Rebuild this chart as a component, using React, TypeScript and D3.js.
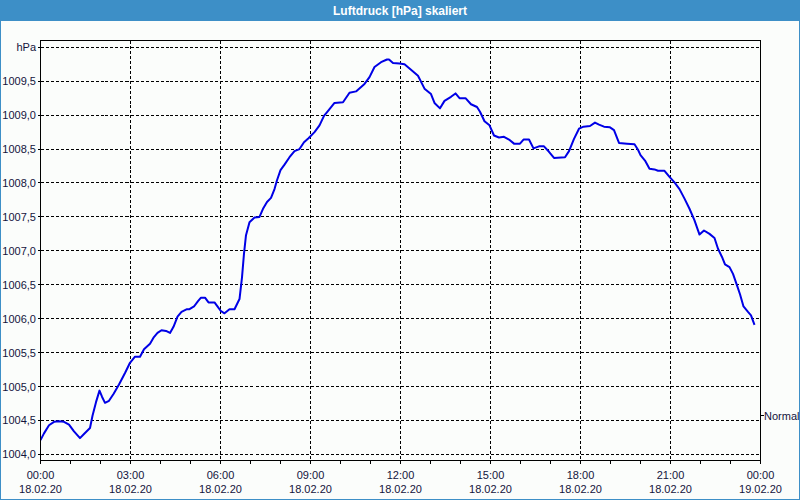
import React from "react";
import * as d3 from "d3";

// minutes since 18.02.20 00:00
const minutes = [
  0, 7, 17, 27, 37, 47, 57, 67, 79, 87, 99, 104, 111, 118, 123, 129, 137, 146, 157, 169,
  179, 189, 199, 207, 219, 226, 234, 242, 251, 259, 266, 274, 282, 293, 298, 307, 315, 321,
  329, 336, 348, 355, 361, 368, 378, 388, 398, 403, 407, 411, 418, 428, 438, 445, 453, 461,
  468, 473, 480, 488, 498, 508, 518, 527, 536, 548, 558, 567, 576, 588, 605, 618, 631, 648,
  658, 668, 681, 693, 697, 705, 718, 728, 741, 755, 768, 781, 788, 799, 808, 821, 830, 838,
  850, 861, 873, 879, 888, 898, 907, 917, 927, 937, 947, 959, 966, 977, 986, 997, 1007,
  1017, 1027, 1049, 1057, 1067, 1077, 1086, 1099, 1109, 1117, 1127, 1139, 1147, 1157, 1173,
  1188, 1195, 1200, 1209, 1218, 1228, 1235, 1248, 1258, 1268, 1278, 1288, 1298, 1308, 1318,
  1327, 1338, 1348, 1355, 1363, 1369, 1378, 1385, 1393, 1399, 1406, 1415, 1421, 1428,
];

const pressure = [
  1004.21, 1004.31, 1004.43, 1004.48, 1004.49, 1004.48, 1004.44, 1004.34, 1004.24, 1004.3,
  1004.39, 1004.57, 1004.77, 1004.94, 1004.85, 1004.76, 1004.79, 1004.89, 1005.03, 1005.2,
  1005.35, 1005.44, 1005.44, 1005.55, 1005.63, 1005.72, 1005.79, 1005.83, 1005.82, 1005.79,
  1005.88, 1006.03, 1006.1, 1006.14, 1006.14, 1006.18, 1006.26, 1006.31, 1006.31, 1006.24,
  1006.24, 1006.17, 1006.11, 1006.08, 1006.14, 1006.14, 1006.29, 1006.61, 1006.96, 1007.23,
  1007.42, 1007.49, 1007.5, 1007.62, 1007.72, 1007.78, 1007.91, 1008.04, 1008.19, 1008.27,
  1008.38, 1008.47, 1008.5, 1008.6, 1008.66, 1008.75, 1008.85, 1008.99, 1009.07, 1009.18,
  1009.19, 1009.33, 1009.35, 1009.46, 1009.56, 1009.71, 1009.78, 1009.82, 1009.82, 1009.77,
  1009.76, 1009.75, 1009.67, 1009.58, 1009.39, 1009.31, 1009.18, 1009.1, 1009.21, 1009.27,
  1009.32, 1009.25, 1009.25, 1009.16, 1009.12, 1009.05, 1008.91, 1008.85, 1008.7, 1008.67,
  1008.68, 1008.64, 1008.58, 1008.58, 1008.64, 1008.64, 1008.51, 1008.54, 1008.54, 1008.46,
  1008.37, 1008.38, 1008.47, 1008.65, 1008.8, 1008.83, 1008.84, 1008.89, 1008.86, 1008.83,
  1008.82, 1008.78, 1008.59, 1008.58, 1008.57, 1008.49, 1008.41, 1008.33, 1008.21, 1008.2,
  1008.18, 1008.18, 1008.09, 1008.01, 1007.91, 1007.77, 1007.62, 1007.45, 1007.24, 1007.3,
  1007.25, 1007.19, 1007.03, 1006.91, 1006.8, 1006.76, 1006.66, 1006.49, 1006.36, 1006.18,
  1006.1, 1006.05, 1005.91,
];

const yTicks = [1004.0, 1004.5, 1005.0, 1005.5, 1006.0, 1006.5, 1007.0, 1007.5, 1008.0, 1008.5, 1009.0, 1009.5];
const yUnitTick = 1010.0;
const yUnitLabel = "hPa";
const normalValue = 1004.57;
const normalLabel = "Normal";

const xMajorTicks = [0, 180, 360, 540, 720, 900, 1080, 1260, 1440];
const xTimeLabels = ["00:00", "03:00", "06:00", "09:00", "12:00", "15:00", "18:00", "21:00", "00:00"];
const xDateLabels = ["18.02.20", "18.02.20", "18.02.20", "18.02.20", "18.02.20", "18.02.20", "18.02.20", "18.02.20", "19.02.20"];
const xMinorTicks = d3.range(0, 1441, 60);

const title = "Luftdruck [hPa] skaliert";

const W = 800;
const H = 500;
const left = 40.5;
const right = 760.5;
const top = 40.5;
const bottom = 460.5;

const FONT = "'Liberation Sans', Arial, sans-serif";
const TEXT = "#14143c";

const crisp = (v: number) => Math.round(v - 0.5) + 0.5;

export default function App() {
  const x = d3.scaleLinear().domain([0, 1440]).range([left, right]);
  const y = d3.scaleLinear().domain([1003.91, 1010.1]).range([bottom, top]);

  const data = minutes.map((m, i) => [m, pressure[i]] as [number, number]);
  const line = d3
    .line<[number, number]>()
    .x((d) => x(d[0]))
    .y((d) => y(d[1]))
    .curve(d3.curveLinear);

  const hGrid = [...yTicks, yUnitTick];

  return (
    <div style={{ position: "fixed", left: 0, top: 0, width: W, height: H }}>
      <svg width={W} height={H} style={{ display: "block" }}>
        <defs>
          <clipPath id="plotclip">
            <rect x={left} y={top} width={right - left} height={bottom - top} />
          </clipPath>
        </defs>
        <rect x={0} y={0} width={W} height={H} fill="#fbfdfb" />
        {/* title bar */}
        <rect x={0} y={0} width={W} height={21} fill="#3d8fc7" />
        <text
          x={W / 2}
          y={14.5}
          textAnchor="middle"
          fill="#ffffff"
          fontFamily={FONT}
          fontWeight="bold"
          fontSize={12}
        >
          {title}
        </text>
        {/* outer border */}
        <rect x={0.5} y={0.5} width={W - 1} height={H - 1} fill="none" stroke="#3d8fc7" strokeWidth={1} />

        {/* grid */}
        <g stroke="#000" strokeWidth={1} strokeDasharray="3,2" shapeRendering="crispEdges">
          {hGrid.map((v) => (
            <line key={"h" + v} x1={left} x2={right} y1={crisp(y(v))} y2={crisp(y(v))} />
          ))}
          {xMajorTicks.slice(1, -1).map((m) => (
            <line key={"v" + m} x1={crisp(x(m))} x2={crisp(x(m))} y1={top} y2={bottom} />
          ))}
        </g>

        {/* ticks */}
        <g stroke="#000" strokeWidth={1} shapeRendering="crispEdges">
          {xMinorTicks.map((m) => (
            <line key={"t" + m} x1={crisp(x(m))} x2={crisp(x(m))} y1={bottom} y2={bottom + 3} />
          ))}
          {hGrid.map((v) => (
            <line key={"yt" + v} x1={left - 3} x2={left} y1={crisp(y(v))} y2={crisp(y(v))} />
          ))}
          <line x1={right} x2={right + 3} y1={crisp(y(normalValue))} y2={crisp(y(normalValue))} />
        </g>

        {/* data line */}
        <path
          d={line(data) || ""}
          fill="none"
          stroke="#0000e6"
          strokeWidth={2}
          strokeLinejoin="round"
          clipPath="url(#plotclip)"
        />

        {/* plot frame */}
        <rect
          x={left}
          y={top}
          width={right - left}
          height={bottom - top}
          fill="none"
          stroke="#000"
          strokeWidth={1}
          shapeRendering="crispEdges"
        />

        {/* y labels */}
        <g fontFamily={FONT} fontSize={11} fill={TEXT} textAnchor="end">
          {yTicks.map((v) => (
            <text key={"yl" + v} x={36} y={y(v) + 4}>
              {d3.format(".1f")(v).replace(".", ",")}
            </text>
          ))}
          <text x={36} y={y(yUnitTick) + 4}>
            {yUnitLabel}
          </text>
        </g>
        <text x={764} y={y(normalValue) + 4} fontFamily={FONT} fontSize={11} fill={TEXT}>
          {normalLabel}
        </text>

        {/* x labels */}
        <g fontFamily={FONT} fontSize={11} fill={TEXT} textAnchor="middle">
          {xMajorTicks.map((m, i) => (
            <g key={"xl" + m}>
              <text x={x(m)} y={479}>
                {xTimeLabels[i]}
              </text>
              <text x={x(m)} y={493}>
                {xDateLabels[i]}
              </text>
            </g>
          ))}
        </g>
      </svg>
    </div>
  );
}
